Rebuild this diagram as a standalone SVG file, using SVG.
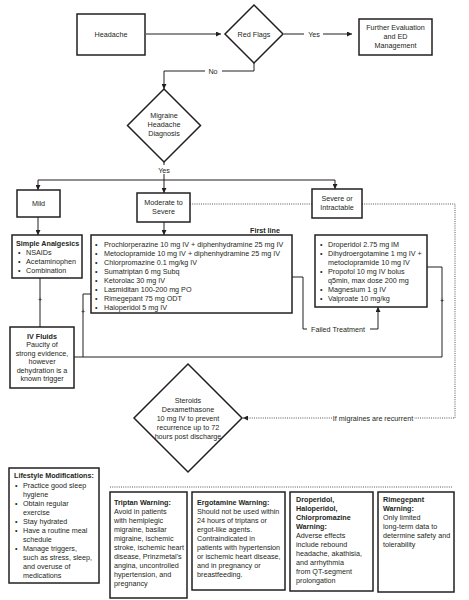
<svg xmlns="http://www.w3.org/2000/svg" width="469" height="600" viewBox="0 0 469 600">
<defs>
<marker id="ah" viewBox="0 0 10 10" refX="10" refY="5" markerWidth="5" markerHeight="5" orient="auto" markerUnits="userSpaceOnUse">
<path d="M0,0 L10,5 L0,10 z" fill="#231f20"/>
</marker>
<style>
.box{fill:#fff;stroke:#231f20;stroke-width:1.5}
.ln{fill:none;stroke:#231f20;stroke-width:1}
.dot{fill:none;stroke:#555;stroke-width:1;stroke-dasharray:1 1.2}
text{font-family:"Liberation Sans",Arial,sans-serif;font-size:7.2px;fill:#231f20}
.c{text-anchor:middle}
.b{font-weight:bold}
</style>
</defs>
<rect width="469" height="600" fill="#fff"/>

<g id="connectors">
<line class="ln" x1="146" y1="34" x2="221" y2="34" marker-end="url(#ah)"/>
<line class="ln" x1="284" y1="34" x2="304" y2="34"/>
<line class="ln" x1="323" y1="34" x2="352" y2="34" marker-end="url(#ah)"/>
<polyline class="ln" points="254,63 254,71 222,71"/>
<polyline class="ln" points="205,71 164,71 164,89" marker-end="url(#ah)"/>
<line class="ln" x1="164" y1="162" x2="164" y2="165"/>
<line class="ln" x1="164" y1="174" x2="164" y2="180"/>
<line class="ln" x1="38" y1="180" x2="335" y2="180"/>
<line class="ln" x1="38" y1="180" x2="38" y2="190" marker-end="url(#ah)"/>
<line class="ln" x1="164" y1="180" x2="164" y2="193" marker-end="url(#ah)"/>
<line class="ln" x1="335" y1="180" x2="335" y2="189" marker-end="url(#ah)"/>
<line class="ln" x1="38" y1="217" x2="38" y2="235" marker-end="url(#ah)"/>
<line class="ln" x1="164" y1="222" x2="164" y2="235" marker-end="url(#ah)"/>
<line class="dot" x1="190" y1="204" x2="312" y2="204"/>
<polyline class="dot" points="362,204 455,204 455,418 414,418"/>
<line class="dot" x1="332" y1="418" x2="243" y2="418" marker-end="url(#ah)"/>
<polyline class="ln" points="292,277 303,277 303,329 307,329"/>
<polyline class="ln" points="370,329 378,329 378,307" marker-end="url(#ah)"/>
<polyline class="ln" points="427,267 442,267 442,357 74,357"/>
<polyline class="ln" points="91,294 83,294 83,357"/>
<line class="ln" x1="40" y1="278" x2="40" y2="327"/>
<line class="dot" x1="110" y1="487" x2="453" y2="487"/>
<text x="40" y="302" class="c">+</text>
<text x="83" y="314" class="c">+</text>
<text x="442" y="303" class="c">+</text>
<text x="314" y="36.5" class="c">Yes</text>
<text x="213" y="73.5" class="c">No</text>
<text x="164" y="172.5" class="c">Yes</text>
<text x="338" y="331.5" class="c">Failed Treatment</text>
<text x="373" y="420.5" class="c">If migraines are recurrent</text>
</g>

<g id="headache">
<rect class="box" x="77" y="14" width="68" height="41"/>
<text x="111" y="36.5" class="c">Headache</text>
</g>

<g id="red-flags">
<polygon class="box" points="254,5 283,34 254,63 225,34"/>
<text x="254" y="36.5" class="c">Red Flags</text>
</g>

<g id="further-evaluation">
<rect class="box" x="359" y="19" width="73" height="36"/>
<text x="395.5" y="29.5" class="c">Further Evaluation</text>
<text x="395.5" y="38.5" class="c">and ED</text>
<text x="395.5" y="47.5" class="c">Management</text>
</g>

<g id="migraine-diagnosis">
<polygon class="box" points="164,89 200.5,125.5 164,162 127.5,125.5"/>
<text x="164" y="117.5" class="c">Migraine</text>
<text x="164" y="126.5" class="c">Headache</text>
<text x="164" y="135.5" class="c">Diagnosis</text>
</g>

<g id="mild">
<rect class="box" x="17" y="190" width="43" height="27"/>
<text x="38.5" y="206" class="c">Mild</text>
</g>

<g id="moderate">
<rect class="box" x="137" y="193" width="53" height="29"/>
<text x="163.5" y="204.5" class="c">Moderate to</text>
<text x="163.5" y="213.5" class="c">Severe</text>
</g>

<g id="severe">
<rect class="box" x="312" y="189" width="50" height="29"/>
<text x="337" y="200.5" class="c">Severe or</text>
<text x="337" y="209.5" class="c">Intractable</text>
</g>

<g id="simple-analgesics">
<rect class="box" x="12" y="235" width="70" height="43"/>
<text x="16" y="245.5" class="b">Simple Analgesics</text>
<text x="18" y="254.5">•</text><text x="26" y="254.5">NSAIDs</text>
<text x="18" y="263.5">•</text><text x="26" y="263.5">Acetaminophen</text>
<text x="18" y="272.5">•</text><text x="26" y="272.5">Combination</text>
</g>

<g id="first-line">
<text x="280" y="233" text-anchor="end" class="b">First line</text>
<rect class="box" x="91" y="235" width="201" height="78"/>
<text x="95" y="246.5">•</text><text x="104" y="246.5">Prochlorperazine 10 mg IV + diphenhydramine 25 mg IV</text>
<text x="95" y="255.5">•</text><text x="104" y="255.5">Metoclopramide 10 mg IV + diphenhydramine 25 mg IV</text>
<text x="95" y="264.5">•</text><text x="104" y="264.5">Chlorpromazine 0.1 mg/kg IV</text>
<text x="95" y="273.5">•</text><text x="104" y="273.5">Sumatriptan 6 mg Subq</text>
<text x="95" y="282.5">•</text><text x="104" y="282.5">Ketorolac 30 mg IV</text>
<text x="95" y="291.5">•</text><text x="104" y="291.5">Lasmiditan 100-200 mg PO</text>
<text x="95" y="300.5">•</text><text x="104" y="300.5">Rimegepant 75 mg ODT</text>
<text x="95" y="309.5">•</text><text x="104" y="309.5">Haloperidol 5 mg IV</text>
</g>

<g id="second-line">
<rect class="box" x="315" y="235" width="112" height="72"/>
<text x="320" y="246.5">•</text><text x="328" y="246.5">Droperidol 2.75 mg IM</text>
<text x="320" y="255.5">•</text><text x="328" y="255.5">Dihydroergotamine 1 mg IV +</text>
<text x="328" y="264.5">metoclopramide 10 mg IV</text>
<text x="320" y="273.5">•</text><text x="328" y="273.5">Propofol 10 mg IV bolus</text>
<text x="328" y="282.5">q5min, max dose 200 mg</text>
<text x="320" y="291.5">•</text><text x="328" y="291.5">Magnesium 1 g IV</text>
<text x="320" y="300.5">•</text><text x="328" y="300.5">Valproate 10 mg/kg</text>
</g>

<g id="iv-fluids">
<rect class="box" x="10" y="327" width="64" height="61"/>
<text x="42" y="338.5" class="c b">IV Fluids</text>
<text x="42" y="347" class="c">Paucity of</text>
<text x="42" y="355.5" class="c">strong evidence,</text>
<text x="42" y="364" class="c">however</text>
<text x="42" y="372.5" class="c">dehydration is a</text>
<text x="42" y="381" class="c">known trigger</text>
</g>

<g id="steroids">
<polygon class="box" points="188,364 242,418 188,472 134,418"/>
<text x="188" y="402.5" class="c">Steroids</text>
<text x="188" y="411.5" class="c">Dexamethasone</text>
<text x="188" y="420.5" class="c">10 mg IV to prevent</text>
<text x="188" y="429.5" class="c">recurrence up to 72</text>
<text x="188" y="438.5" class="c">hours post discharge</text>
</g>

<g id="lifestyle">
<rect class="box" x="9" y="468" width="90" height="115"/>
<text x="14" y="478" class="b">Lifestyle Modifications:</text>
<text x="15" y="487.5">•</text><text x="23" y="487.5">Practice good sleep</text>
<text x="23" y="496.5">hygiene</text>
<text x="15" y="505.5">•</text><text x="23" y="505.5">Obtain regular</text>
<text x="23" y="514.5">exercise</text>
<text x="15" y="523.5">•</text><text x="23" y="523.5">Stay hydrated</text>
<text x="15" y="532.5">•</text><text x="23" y="532.5">Have a routine meal</text>
<text x="23" y="541.5">schedule</text>
<text x="15" y="550.5">•</text><text x="23" y="550.5">Manage triggers,</text>
<text x="23" y="559.5">such as stress, sleep,</text>
<text x="23" y="568.5">and overuse of</text>
<text x="23" y="577.5">medications</text>
</g>

<g id="triptan-warning">
<rect class="box" x="110" y="492" width="77" height="106"/>
<text x="114" y="504.5" class="b">Triptan Warning:</text>
<text x="114" y="513.5">Avoid in patients</text>
<text x="114" y="522.5">with hemiplegic</text>
<text x="114" y="531.5">migraine, basilar</text>
<text x="114" y="540.5">migraine, ischemic</text>
<text x="114" y="549.5">stroke, ischemic heart</text>
<text x="114" y="558.5">disease, Prinzmetal's</text>
<text x="114" y="567.5">angina, uncontrolled</text>
<text x="114" y="576.5">hypertension, and</text>
<text x="114" y="585.5">pregnancy</text>
</g>

<g id="ergotamine-warning">
<rect class="box" x="192" y="492" width="93" height="98"/>
<text x="197" y="504.5" class="b">Ergotamine Warning:</text>
<text x="197" y="513.5">Should not be used within</text>
<text x="197" y="522.5">24 hours of triptans or</text>
<text x="197" y="531.5">ergot-like agents.</text>
<text x="197" y="540.5">Contraindicated in</text>
<text x="197" y="549.5">patients with hypertension</text>
<text x="197" y="558.5">or ischemic heart disease,</text>
<text x="197" y="567.5">and in pregnancy or</text>
<text x="197" y="576.5">breastfeeding.</text>
</g>

<g id="droperidol-warning">
<rect class="box" x="290" y="492" width="83" height="99"/>
<text x="296" y="501.5" class="b">Droperidol,</text>
<text x="296" y="510.5" class="b">Haloperidol,</text>
<text x="296" y="519.5" class="b">Chlorpromazine</text>
<text x="296" y="528.5" class="b">Warning:</text>
<text x="296" y="537.5">Adverse effects</text>
<text x="296" y="546.5">include rebound</text>
<text x="296" y="555.5">headache, akathisia,</text>
<text x="296" y="564.5">and arrhythmia</text>
<text x="296" y="573.5">from QT-segment</text>
<text x="296" y="582.5">prolongation</text>
</g>

<g id="rimegepant-warning">
<rect class="box" x="378" y="492" width="76" height="100"/>
<text x="383" y="501.5" class="b">Rimegepant</text>
<text x="383" y="510.5" class="b">Warning:</text>
<text x="383" y="519.5">Only limited</text>
<text x="383" y="528.5">long-term data to</text>
<text x="383" y="537.5">determine safety and</text>
<text x="383" y="546.5">tolerability</text>
</g>
</svg>
